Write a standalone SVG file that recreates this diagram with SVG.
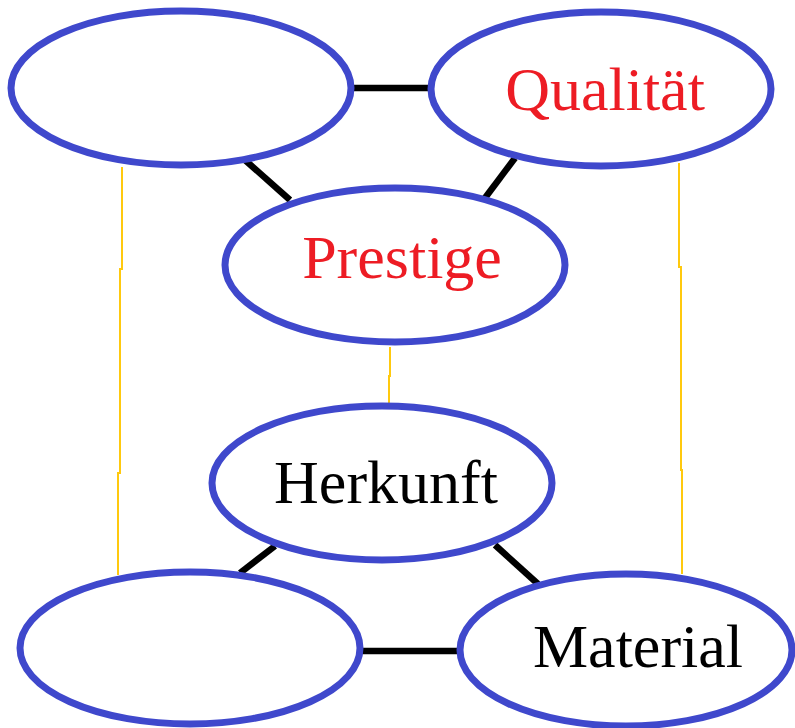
<svg xmlns="http://www.w3.org/2000/svg" width="795" height="728" viewBox="0 0 795 728">
<style>
.node ellipse{fill:#ffffff;stroke:#3f48cc;stroke-width:7}
.node text{font-family:"Liberation Serif","Times New Roman",serif;font-size:62px;text-anchor:middle}
.red{fill:#ed1c24}
.blk{fill:#000000}
.link{stroke:#000000;stroke-width:6.5;fill:none}
.thin{stroke:#ffc90e;stroke-width:2;fill:none}
</style>
<rect width="795" height="728" fill="#ffffff"/>
<g id="connectors">
<line class="link" x1="350" y1="88" x2="432" y2="88"/>
<line class="link" x1="245" y1="160" x2="290" y2="200"/>
<line class="link" x1="515" y1="158" x2="485" y2="198"/>
<line class="link" x1="275" y1="546" x2="240" y2="573"/>
<line class="link" x1="495" y1="545" x2="538" y2="584"/>
<line class="link" x1="358" y1="651" x2="460" y2="651"/>
<polyline class="thin" points="122,167 122,269 120,269 120,473 118,473 118,575"/>
<polyline class="thin" points="679,163 679,267 681,267 681,470 682,470 682,574"/>
<polyline class="thin" points="390,347 390,376 389,376 389,404"/>
</g>
<g id="n-topleft" class="node"><ellipse cx="181" cy="88" rx="170" ry="77"/></g>
<g id="n-qualitaet" class="node"><ellipse cx="601" cy="89" rx="170" ry="77"/><text class="red" x="605" y="110">Qualität</text></g>
<g id="n-prestige" class="node"><ellipse cx="395" cy="265" rx="170" ry="77"/><text class="red" x="402" y="278">Prestige</text></g>
<g id="n-herkunft" class="node"><ellipse cx="382" cy="483" rx="170" ry="77"/><text class="blk" x="386" y="503">Herkunft</text></g>
<g id="n-bottomleft" class="node"><ellipse cx="190" cy="648" rx="170" ry="76"/></g>
<g id="n-material" class="node"><ellipse cx="626" cy="650" rx="166" ry="76"/><text class="blk" x="638" y="667">Material</text></g>
</svg>
